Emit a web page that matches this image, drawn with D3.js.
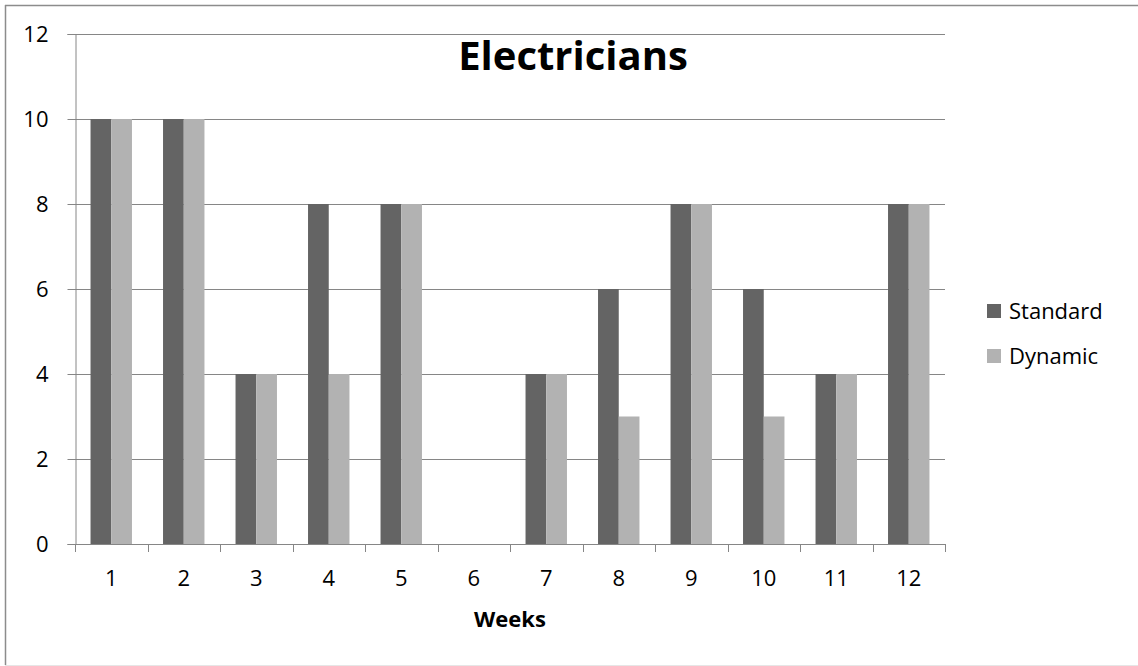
<!DOCTYPE html>
<html>
<head>
<meta charset="utf-8">
<script src="https://cdn.jsdelivr.net/npm/d3@7"></script>
<style>
  html, body { margin: 0; padding: 0; background: #fff; }
  svg { display: block; font-family: "Open Sans", "Liberation Sans", sans-serif; }
</style>
</head>
<body>
<svg id="chart" width="1138" height="666"></svg>
<script>
const weeks = ["1","2","3","4","5","6","7","8","9","10","11","12"];
const seriesNames = ["Standard", "Dynamic"];
const standardValues = [10, 10, 4, 8, 8, 0, 4, 6, 8, 6, 4, 8];
const dynamicValues  = [10, 10, 4, 4, 8, 0, 4, 3, 8, 3, 4, 8];
const yTicks = [0, 2, 4, 6, 8, 10, 12];
const chartTitle = "Electricians";
const xAxisTitle = "Weeks";

const colors = { Standard: "#646464", Dynamic: "#b2b2b2" };
const gridColor = "#868686";

const svg = d3.select("#chart");
const W = 1138, H = 666;

// outer chart border (top and left gray, bottom faint)
svg.append("line").attr("x1", 5).attr("x2", W).attr("y1", 5.5).attr("y2", 5.5)
  .attr("stroke", "#8c8c8c").attr("stroke-width", 1.5);
svg.append("line").attr("x1", 5.5).attr("x2", 5.5).attr("y1", 5).attr("y2", 665)
  .attr("stroke", "#8c8c8c").attr("stroke-width", 1.5);
svg.append("line").attr("x1", 5).attr("x2", W).attr("y1", 665.5).attr("y2", 665.5)
  .attr("stroke", "#e6e6e6").attr("stroke-width", 1);

const plot = { left: 75, right: 945, top: 34, bottom: 544 };

const x0 = d3.scaleBand().domain(weeks).range([plot.left, plot.right]).padding(0);
const x1 = d3.scaleBand().domain(seriesNames).range([0, x0.bandwidth()])
  .paddingInner(0).paddingOuter(0.75);
const y = d3.scaleLinear().domain([0, 12]).range([plot.bottom, plot.top]);

// gridlines
svg.append("g").selectAll("line").data(yTicks.filter(d => d > 0)).join("line")
  .attr("x1", plot.left).attr("x2", plot.right)
  .attr("y1", d => Math.round(y(d)) + 0.5).attr("y2", d => Math.round(y(d)) + 0.5)
  .attr("stroke", gridColor).attr("stroke-width", 1);

// bars
const data = weeks.map((w, i) => ({ week: w, values: [
  { key: "Standard", value: standardValues[i] },
  { key: "Dynamic", value: dynamicValues[i] }
]}));

svg.append("g").selectAll("g").data(data).join("g")
  .attr("transform", d => `translate(${x0(d.week)},0)`)
  .selectAll("rect").data(d => d.values).join("rect")
  .attr("x", d => x1(d.key))
  .attr("width", x1.bandwidth())
  .attr("y", d => y(d.value))
  .attr("height", d => y(0) - y(d.value))
  .attr("fill", d => colors[d.key]);

// y axis
const yAxis = d3.axisLeft(y).tickValues(yTicks).tickSize(8).tickPadding(19).tickFormat(d3.format("d"));
const gy = svg.append("g").attr("transform", `translate(${plot.left + 0.5},0)`).call(yAxis);
gy.select(".domain").attr("stroke", gridColor);
gy.selectAll(".tick line").attr("stroke", gridColor);
gy.selectAll(".tick text").attr("font-size", 22).attr("fill", "#000")
  .attr("font-family", "Open Sans, sans-serif");

// x axis: ticks at band boundaries
const boundaries = weeks.map(w => x0(w)).concat([plot.right]);
svg.append("line")
  .attr("x1", plot.left).attr("x2", plot.right)
  .attr("y1", plot.bottom + 0.5).attr("y2", plot.bottom + 0.5)
  .attr("stroke", gridColor);
svg.append("g").selectAll("line").data(boundaries).join("line")
  .attr("x1", d => Math.round(d) + 0.5).attr("x2", d => Math.round(d) + 0.5)
  .attr("y1", plot.bottom).attr("y2", plot.bottom + 8)
  .attr("stroke", gridColor);
svg.append("g").selectAll("text").data(weeks).join("text")
  .attr("x", d => x0(d) + x0.bandwidth() / 2)
  .attr("y", 586)
  .attr("text-anchor", "middle")
  .attr("font-size", 22)
  .attr("fill", "#000")
  .text(d => d);

// axis title
svg.append("text")
  .attr("x", (plot.left + plot.right) / 2)
  .attr("y", 627)
  .attr("text-anchor", "middle")
  .attr("font-size", 22).attr("font-weight", "bold")
  .text(xAxisTitle);

// chart title
svg.append("text")
  .attr("x", 573).attr("y", 70)
  .attr("text-anchor", "middle")
  .attr("font-size", 40).attr("font-weight", "bold")
  .text(chartTitle);

// legend
const legendY = [304, 349];
const lg = svg.append("g").selectAll("g").data(seriesNames).join("g")
  .attr("transform", (d, i) => `translate(987,${legendY[i]})`);
lg.append("rect").attr("width", 14).attr("height", 14).attr("fill", d => colors[d]);
lg.append("text").attr("x", 22).attr("y", 15)
  .attr("font-size", 22).attr("fill", "#000").text(d => d);
</script>
</body>
</html>
